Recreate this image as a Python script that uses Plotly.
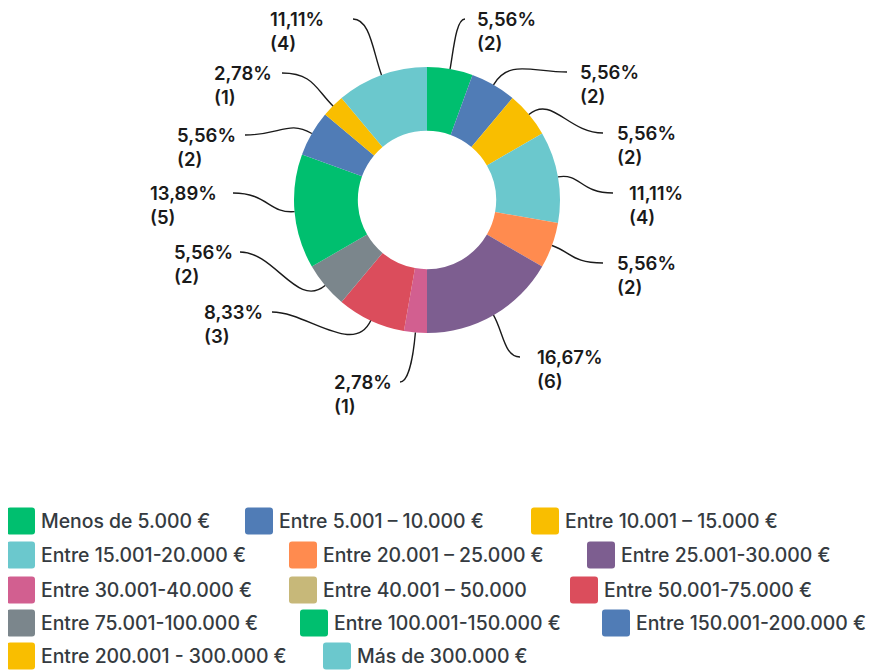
import math
import plotly.graph_objects as go

# ---------------- data ----------------
categories = [
    "Menos de 5.000 €",
    "Entre 5.001 – 10.000 €",
    "Entre 10.001 – 15.000 €",
    "Entre 15.001-20.000 €",
    "Entre 20.001 – 25.000 €",
    "Entre 25.001-30.000 €",
    "Entre 30.001-40.000 €",
    "Entre 40.001 – 50.000",
    "Entre 50.001-75.000 €",
    "Entre 75.001-100.000 €",
    "Entre 100.001-150.000 €",
    "Entre 150.001-200.000 €",
    "Entre 200.001 - 300.000 €",
    "Más de 300.000 €",
]
counts = [2, 2, 2, 4, 2, 6, 1, 0, 3, 2, 5, 2, 1, 4]

# ---------------- styles / layout ----------------
colors = ["#00BF6F", "#507CB6", "#F9BE00", "#6BC8CD", "#FF8B4F", "#7D5E90",
          "#D25F90", "#C7B879", "#DB4D5C", "#7B868C", "#00BF6F", "#507CB6",
          "#F9BE00", "#6BC8CD"]

# page coordinates (the browser body adds an 8px margin around the figure)
PAGE_W, PAGE_H = 876, 670
OFF = 8
W, H = PAGE_W - OFF, PAGE_H - OFF
CX, CY, R = 427, 200, 133
HOLE = 0.52

# label placement (text left x, first-line centre y, leader end x) per category
label_layout = [
    (475, 19, 465), (578, 72, 567), (615, 133, 603), (627, 193, 613),
    (615, 263, 603), (535, 357, 520), (332, 382, 400), None,
    (202, 312, 272), (172, 252, 240), (148, 193, 233), (175, 135, 245),
    (212, 73, 282), (268, 19, 353),
]

# legend placement: (square left x, row index)
legend_rows_y = [521, 555, 590, 623, 656]
legend_layout = [(7, 0), (245, 0), (531, 0), (7, 1), (289, 1), (587, 1),
                 (7, 2), (289, 2), (570, 2), (7, 3), (300, 3), (602, 3),
                 (7, 4), (323, 4)]

FONT = "Inter"

fig = go.Figure()

fig.add_trace(go.Pie(
    labels=categories, values=counts, sort=False, direction="clockwise",
    rotation=0, hole=HOLE, textinfo="none", showlegend=False,
    marker=dict(colors=colors, line=dict(width=0)),
    domain=dict(x=[(CX - R - OFF) / W, (CX + R - OFF) / W],
                y=[1 - (CY + R - OFF) / H, 1 - (CY - R - OFF) / H]),
))

total = sum(counts)
shapes = []
annotations = []
cum = 0
for i, v in enumerate(counts):
    start = cum
    cum += v
    if v == 0 or label_layout[i] is None:
        continue
    mid = (start + v / 2) / total * 2 * math.pi
    ux, uy = math.sin(mid), -math.cos(mid)
    sx, sy = CX + R * ux, CY + R * uy
    tx, ty, ex = label_layout[i]
    ey = ty
    dist = math.hypot(ex - sx, ey - sy)
    L1 = 0.4 * dist
    L2 = max(8, min(0.6 * abs(ex - sx), 35))
    side = 1 if ex < tx else -1   # +1: label to the right of the line end
    c1x, c1y = sx + ux * L1, sy + uy * L1
    c2x, c2y = ex - side * L2, ey
    path = f"M {sx:.1f},{sy:.1f} C {c1x:.1f},{c1y:.1f} {c2x:.1f},{c2y:.1f} {ex:.1f},{ey:.1f}"
    shapes.append(dict(type="path", path=path, xref="x", yref="y",
                       line=dict(color="#1a1a1a", width=1.4)))
    pct = f"{v / total * 100:.2f}".replace(".", ",") + "%"
    for j, t in enumerate([pct, f"({v})"]):
        annotations.append(dict(
            x=tx, y=ty + j * 24, xref="x", yref="y", text=t, showarrow=False,
            xanchor="left", yanchor="middle", align="left",
            font=dict(family=FONT, size=18.5, color="#1a1a1a", weight=600)))

# legend
SQ_W, SQ_H, RAD = 28, 27, 3
for i, name in enumerate(categories):
    x0, row = legend_layout[i]
    yc = legend_rows_y[row]
    y0 = yc - SQ_H / 2
    x1, y1 = x0 + SQ_W, y0 + SQ_H
    p = (f"M {x0+RAD},{y0} L {x1-RAD},{y0} Q {x1},{y0} {x1},{y0+RAD} "
         f"L {x1},{y1-RAD} Q {x1},{y1} {x1-RAD},{y1} L {x0+RAD},{y1} "
         f"Q {x0},{y1} {x0},{y1-RAD} L {x0},{y0+RAD} Q {x0},{y0} {x0+RAD},{y0} Z")
    shapes.append(dict(type="path", path=p, xref="x", yref="y",
                       fillcolor=colors[i], line=dict(width=0)))
    annotations.append(dict(
        x=x0 + 32, y=yc, xref="x", yref="y", text=name, showarrow=False,
        xanchor="left", yanchor="middle",
        font=dict(family=FONT, size=19.4, color="#353b41", weight=500)))

fig.update_layout(
    width=W, height=H, margin=dict(l=0, r=0, t=0, b=0),
    paper_bgcolor="white", plot_bgcolor="white",
    xaxis=dict(range=[OFF, PAGE_W], visible=False, fixedrange=True, domain=[0, 1]),
    yaxis=dict(range=[PAGE_H, OFF], visible=False, fixedrange=True, domain=[0, 1]),
    shapes=shapes, annotations=annotations, showlegend=False,
)

fig.write_html("out.html")
